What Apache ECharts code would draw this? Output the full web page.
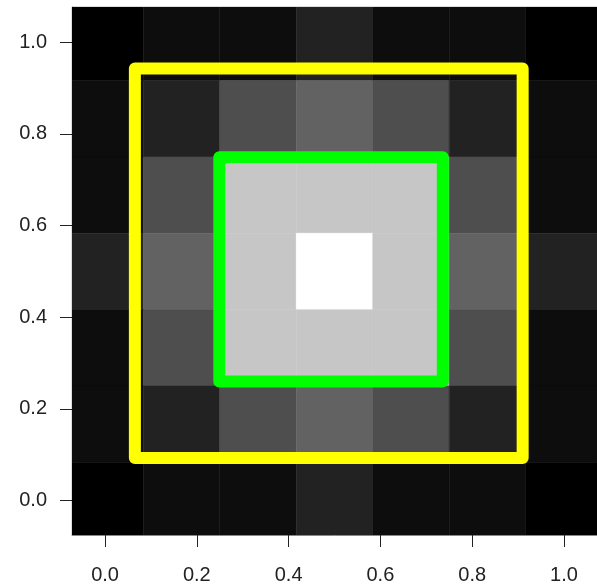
<!DOCTYPE html>
<html>
<head>
<meta charset="utf-8">
<script src="https://cdn.jsdelivr.net/npm/echarts@6/dist/echarts.min.js"></script>
<style>
html,body{margin:0;padding:0;background:#fff;}
#chart{width:597px;height:586px;}
</style>
</head>
<body>
<div id="chart"></div>
<script>
// Cell centres (7x7 image grid) and grey level of each cell (0-255), rows listed top to bottom
const xCenters = [0, 1/6, 2/6, 3/6, 4/6, 5/6, 1];
const yCenters = [1, 5/6, 4/6, 3/6, 2/6, 1/6, 0];
const grayRows = [
  [0, 13, 13, 34, 13, 13, 0],
  [13, 34, 78, 98, 78, 34, 13],
  [13, 78, 198, 198, 198, 78, 13],
  [34, 98, 198, 255, 198, 98, 34],
  [13, 78, 198, 198, 198, 78, 13],
  [13, 34, 78, 98, 78, 34, 13],
  [0, 13, 13, 34, 13, 13, 0]
];
// Outline rectangles: [x0, x1] and [y0, y1]
const yellowX = [0.065, 0.91];
const yellowY = [0.093, 0.943];
const greenX = [0.249, 0.736];
const greenY = [0.26, 0.749];
// Tick values
const xTicks = [0, 0.2, 0.4, 0.6, 0.8, 1.0];
const yTicks = [0, 0.2, 0.4, 0.6, 0.8, 1.0];

const cellData = [];
grayRows.forEach((row, r) => {
  row.forEach((g, c) => cellData.push([xCenters[c], yCenters[r], g]));
});
const cellW = xCenters[1] - xCenters[0];
const cellH = yCenters[0] - yCenters[1];

function boxPath(xs, ys) {
  return [[xs[0], ys[0]], [xs[1], ys[0]], [xs[1], ys[1]], [xs[0], ys[1]], [xs[0], ys[0]]];
}

const font = 'Liberation Sans';
const chart = echarts.init(document.getElementById('chart'), null, {renderer: 'canvas'});
chart.setOption({
  animation: false,
  grid: {left: 72, right: -3, top: 7, bottom: 51, show: true, borderColor: '#bbbbbb', borderWidth: 1, backgroundColor: 'transparent'},
  xAxis: {
    type: 'value', min: -0.072, max: 1.072,
    splitLine: {show: false},
    axisLine: {show: true, onZero: false, lineStyle: {color: '#888', width: 1}},
    axisTick: {show: true, length: 12, customValues: xTicks, lineStyle: {color: '#222', width: 1}},
    axisLabel: {customValues: xTicks, margin: 30, fontFamily: font, fontSize: 20, color: '#222', formatter: v => v.toFixed(1)}
  },
  yAxis: {
    type: 'value', min: -0.075, max: 1.077,
    splitLine: {show: false},
    axisLine: {show: true, onZero: false, lineStyle: {color: '#888', width: 1}},
    axisTick: {show: true, length: 12, customValues: yTicks, lineStyle: {color: '#222', width: 1}},
    axisLabel: {customValues: yTicks, margin: 25, fontFamily: font, fontSize: 20, color: '#222', formatter: v => v.toFixed(1)}
  },
  series: [
    {
      type: 'custom',
      clip: true,
      data: cellData,
      renderItem: function (params, api) {
        const x = api.value(0), y = api.value(1), g = api.value(2);
        const p0 = api.coord([x - cellW / 2, y + cellH / 2]);
        const p1 = api.coord([x + cellW / 2, y - cellH / 2]);
        return {
          type: 'rect',
          shape: {x: p0[0], y: p0[1], width: p1[0] - p0[0], height: p1[1] - p0[1]},
          style: {fill: 'rgb(' + g + ',' + g + ',' + g + ')', stroke: 'rgb(' + g + ',' + g + ',' + g + ')', lineWidth: 0.5}
        };
      },
      z: 1
    },
    {
      type: 'line', data: boxPath(yellowX, yellowY), symbol: 'none', z: 5,
      lineStyle: {color: '#ffff00', width: 12, join: 'round', cap: 'round'}
    },
    {
      type: 'line', data: boxPath(greenX, greenY), symbol: 'none', z: 5,
      lineStyle: {color: '#00ff00', width: 12, join: 'round', cap: 'round'}
    }
  ]
});
</script>
</body>
</html>
